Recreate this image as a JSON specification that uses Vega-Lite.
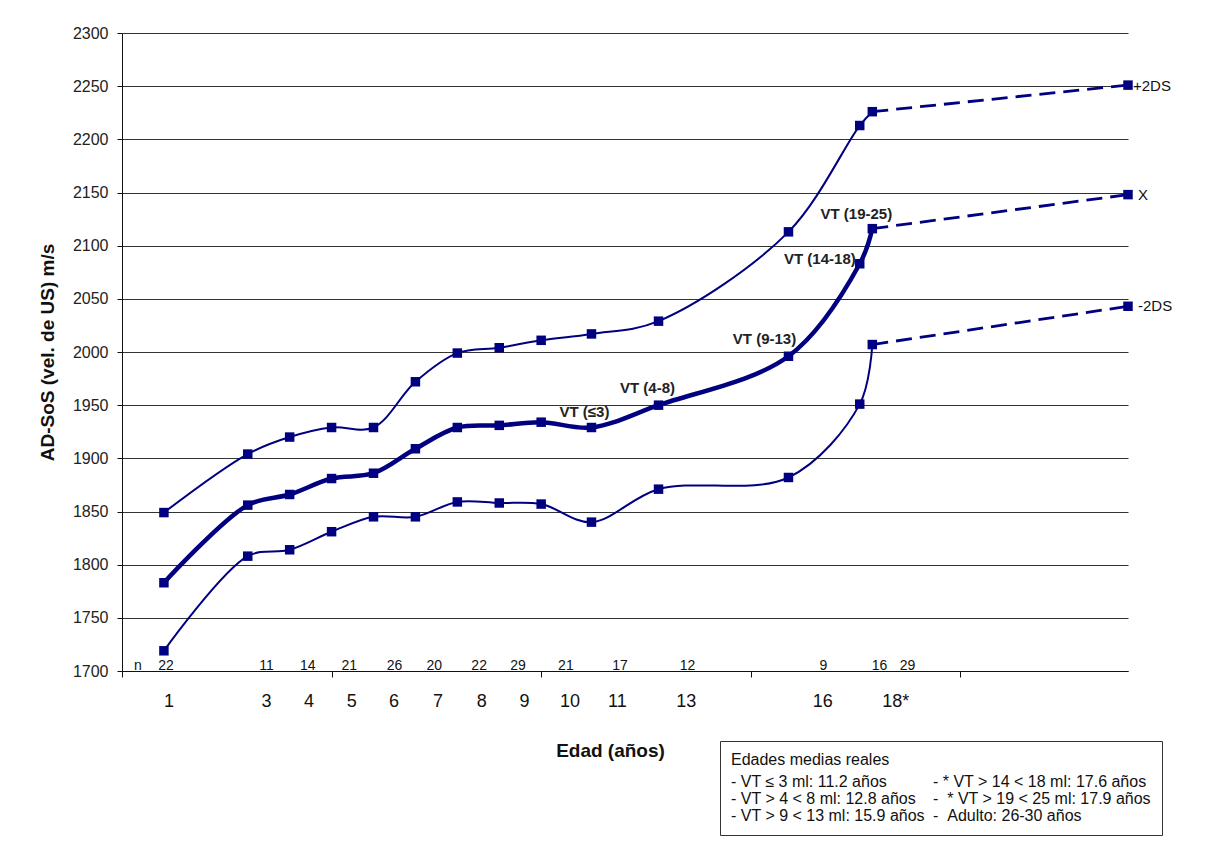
{
  "$schema": "https://vega.github.io/schema/vega-lite/v6.json",
  "width": 1006,
  "height": 638,
  "autosize": "none",
  "padding": {"left": 122, "top": 33, "right": 83, "bottom": 177},
  "background": "white",
  "config": {
    "view": {"stroke": null},
    "font": "Liberation Sans",
    "text": {"font": "Liberation Sans", "color": "#111"}
  },
  "datasets": {
    "series": [
      {"edad": 1, "serie": "+2DS", "sos": 1849},
      {"edad": 3, "serie": "+2DS", "sos": 1904},
      {"edad": 4, "serie": "+2DS", "sos": 1920},
      {"edad": 5, "serie": "+2DS", "sos": 1929},
      {"edad": 6, "serie": "+2DS", "sos": 1929},
      {"edad": 7, "serie": "+2DS", "sos": 1972},
      {"edad": 8, "serie": "+2DS", "sos": 1999},
      {"edad": 9, "serie": "+2DS", "sos": 2004},
      {"edad": 10, "serie": "+2DS", "sos": 2011},
      {"edad": 11.2, "serie": "+2DS", "sos": 2017},
      {"edad": 12.8, "serie": "+2DS", "sos": 2029},
      {"edad": 15.9, "serie": "+2DS", "sos": 2113},
      {"edad": 17.6, "serie": "+2DS", "sos": 2213},
      {"edad": 17.9, "serie": "+2DS", "sos": 2226},
      {"edad": 24, "serie": "+2DS", "sos": 2251},
      {"edad": 1, "serie": "X", "sos": 1783},
      {"edad": 3, "serie": "X", "sos": 1856},
      {"edad": 4, "serie": "X", "sos": 1866},
      {"edad": 5, "serie": "X", "sos": 1881},
      {"edad": 6, "serie": "X", "sos": 1886},
      {"edad": 7, "serie": "X", "sos": 1909},
      {"edad": 8, "serie": "X", "sos": 1929},
      {"edad": 9, "serie": "X", "sos": 1931},
      {"edad": 10, "serie": "X", "sos": 1934},
      {"edad": 11.2, "serie": "X", "sos": 1929, "grupo": "VT (≤3)"},
      {"edad": 12.8, "serie": "X", "sos": 1950, "grupo": "VT (4-8)"},
      {"edad": 15.9, "serie": "X", "sos": 1996, "grupo": "VT (9-13)"},
      {"edad": 17.6, "serie": "X", "sos": 2083, "grupo": "VT (14-18)"},
      {"edad": 17.9, "serie": "X", "sos": 2116, "grupo": "VT (19-25)"},
      {"edad": 24, "serie": "X", "sos": 2148},
      {"edad": 1, "serie": "-2DS", "sos": 1719},
      {"edad": 3, "serie": "-2DS", "sos": 1808},
      {"edad": 4, "serie": "-2DS", "sos": 1814},
      {"edad": 5, "serie": "-2DS", "sos": 1831},
      {"edad": 6, "serie": "-2DS", "sos": 1845},
      {"edad": 7, "serie": "-2DS", "sos": 1845},
      {"edad": 8, "serie": "-2DS", "sos": 1859},
      {"edad": 9, "serie": "-2DS", "sos": 1858},
      {"edad": 10, "serie": "-2DS", "sos": 1857},
      {"edad": 11.2, "serie": "-2DS", "sos": 1840},
      {"edad": 12.8, "serie": "-2DS", "sos": 1871},
      {"edad": 15.9, "serie": "-2DS", "sos": 1882},
      {"edad": 17.6, "serie": "-2DS", "sos": 1951},
      {"edad": 17.9, "serie": "-2DS", "sos": 2007},
      {"edad": 24, "serie": "-2DS", "sos": 2043}
    ],
    "edades": [
      {"pos": 1.12, "etiqueta": "1"},
      {"pos": 3.45, "etiqueta": "3"},
      {"pos": 4.46, "etiqueta": "4"},
      {"pos": 5.48, "etiqueta": "5"},
      {"pos": 6.49, "etiqueta": "6"},
      {"pos": 7.54, "etiqueta": "7"},
      {"pos": 8.58, "etiqueta": "8"},
      {"pos": 9.6, "etiqueta": "9"},
      {"pos": 10.69, "etiqueta": "10"},
      {"pos": 11.82, "etiqueta": "11"},
      {"pos": 13.46, "etiqueta": "13"},
      {"pos": 16.72, "etiqueta": "16"},
      {"pos": 18.46, "etiqueta": "18*"}
    ],
    "muestras": [
      {"pos": 0.38, "n": "n"},
      {"pos": 1.05, "n": "22"},
      {"pos": 3.45, "n": "11"},
      {"pos": 4.43, "n": "14"},
      {"pos": 5.42, "n": "21"},
      {"pos": 6.5, "n": "26"},
      {"pos": 7.45, "n": "20"},
      {"pos": 8.52, "n": "22"},
      {"pos": 9.45, "n": "29"},
      {"pos": 10.59, "n": "21"},
      {"pos": 11.88, "n": "17"},
      {"pos": 13.49, "n": "12"},
      {"pos": 16.73, "n": "9"},
      {"pos": 18.07, "n": "16"},
      {"pos": 18.74, "n": "29"}
    ],
    "notas": [
      {"nota": "- VT ≤ 3 ml: 11.2 años"},
      {"nota": "- VT > 4 < 8 ml: 12.8 años"},
      {"nota": "- VT > 9 < 13 ml: 15.9 años"},
      {"nota": "- * VT > 14 < 18 ml: 17.6 años"},
      {"nota": "- \u00a0* VT > 19 < 25 ml: 17.9 años"},
      {"nota": "- \u00a0Adulto: 26-30 años"}
    ]
  },
  "layer": [
    {
      "data": {"name": "series"},
      "transform": [{"filter": "datum.edad <= 17.9 && datum.serie != 'X'"}],
      "mark": {"type": "line", "interpolate": "catmull-rom", "color": "#000080", "strokeWidth": 2},
      "encoding": {
        "x": {
          "field": "edad", "type": "quantitative",
          "scale": {"domain": [0, 24], "nice": false, "zero": false},
          "axis": {
            "values": [0, 5, 10, 15, 20],
            "labels": false,
            "grid": false,
            "tickSize": 6,
            "tickColor": "#111",
            "domainColor": "#111",
            "title": "Edad (años)",
            "titleFont": "Liberation Sans",
            "titleFontSize": 19,
            "titleFontWeight": "bold",
            "titleColor": "#111",
            "titleBaseline": "alphabetic",
            "titleX": 488,
            "titleY": 85
          }
        },
        "y": {
          "field": "sos", "type": "quantitative",
          "scale": {"domain": [1700, 2300], "nice": false, "zero": false},
          "axis": {
            "values": [1700, 1750, 1800, 1850, 1900, 1950, 2000, 2050, 2100, 2150, 2200, 2250, 2300],
            "format": "d",
            "grid": true,
            "gridColor": "#333",
            "gridWidth": 1,
            "tickSize": 5,
            "tickColor": "#111",
            "domainColor": "#111",
            "labelFont": "Liberation Sans",
            "labelFontSize": 16,
            "labelColor": "#222",
            "labelPadding": 9,
            "title": "AD-SoS (vel. de US) m/s",
            "titleFont": "Liberation Sans",
            "titleFontSize": 19,
            "titleFontWeight": "bold",
            "titleColor": "#111",
            "titleBaseline": "alphabetic",
            "titleX": -69
          }
        },
        "detail": {"field": "serie", "type": "nominal"}
      }
    },
    {
      "data": {"name": "series"},
      "transform": [{"filter": "datum.edad <= 17.9 && datum.serie == 'X'"}],
      "mark": {"type": "line", "interpolate": "catmull-rom", "color": "#000080", "strokeWidth": 4.5},
      "encoding": {
        "x": {"field": "edad", "type": "quantitative"},
        "y": {"field": "sos", "type": "quantitative"}
      }
    },
    {
      "data": {"name": "series"},
      "transform": [{"filter": "datum.edad >= 17.9"}],
      "mark": {"type": "line", "color": "#000080", "strokeWidth": 2.8, "strokeDash": [16, 8]},
      "encoding": {
        "x": {"field": "edad", "type": "quantitative"},
        "y": {"field": "sos", "type": "quantitative"},
        "detail": {"field": "serie", "type": "nominal"}
      }
    },
    {
      "data": {"name": "series"},
      "mark": {"type": "point", "shape": "square", "filled": true, "size": 90, "color": "#000080", "opacity": 1},
      "encoding": {
        "x": {"field": "edad", "type": "quantitative"},
        "y": {"field": "sos", "type": "quantitative"}
      }
    },
    {
      "data": {"name": "series"},
      "transform": [{"filter": "datum.edad == 24 && datum.serie == '+2DS'"}],
      "mark": {"type": "text", "align": "left", "baseline": "middle", "dx": 5, "dy": 1, "fontSize": 15, "color": "#111"},
      "encoding": {
        "x": {"field": "edad", "type": "quantitative"},
        "y": {"field": "sos", "type": "quantitative"},
        "text": {"field": "serie"}
      }
    },
    {
      "data": {"name": "series"},
      "transform": [{"filter": "datum.edad == 24 && datum.serie != '+2DS'"}],
      "mark": {"type": "text", "align": "left", "baseline": "middle", "dx": 10, "dy": 0, "fontSize": 15, "color": "#111"},
      "encoding": {
        "x": {"field": "edad", "type": "quantitative"},
        "y": {"field": "sos", "type": "quantitative"},
        "text": {"field": "serie"}
      }
    },
    {
      "data": {"name": "series"},
      "transform": [{"filter": "datum.grupo == 'VT (≤3)'"}],
      "mark": {"type": "text", "align": "center", "baseline": "middle", "dx": -7, "dy": -15, "fontSize": 15, "fontWeight": "bold", "color": "#222"},
      "encoding": {
        "x": {"field": "edad", "type": "quantitative"},
        "y": {"field": "sos", "type": "quantitative"},
        "text": {"field": "grupo"}
      }
    },
    {
      "data": {"name": "series"},
      "transform": [{"filter": "datum.grupo == 'VT (4-8)'"}],
      "mark": {"type": "text", "align": "center", "baseline": "middle", "dx": -11, "dy": -17, "fontSize": 15, "fontWeight": "bold", "color": "#222"},
      "encoding": {
        "x": {"field": "edad", "type": "quantitative"},
        "y": {"field": "sos", "type": "quantitative"},
        "text": {"field": "grupo"}
      }
    },
    {
      "data": {"name": "series"},
      "transform": [{"filter": "datum.grupo == 'VT (9-13)'"}],
      "mark": {"type": "text", "align": "center", "baseline": "middle", "dx": -24, "dy": -17, "fontSize": 15, "fontWeight": "bold", "color": "#222"},
      "encoding": {
        "x": {"field": "edad", "type": "quantitative"},
        "y": {"field": "sos", "type": "quantitative"},
        "text": {"field": "grupo"}
      }
    },
    {
      "data": {"name": "series"},
      "transform": [{"filter": "datum.grupo == 'VT (14-18)'"}],
      "mark": {"type": "text", "align": "right", "baseline": "middle", "dx": -4, "dy": -5, "fontSize": 15, "fontWeight": "bold", "color": "#222"},
      "encoding": {
        "x": {"field": "edad", "type": "quantitative"},
        "y": {"field": "sos", "type": "quantitative"},
        "text": {"field": "grupo"}
      }
    },
    {
      "data": {"name": "series"},
      "transform": [{"filter": "datum.grupo == 'VT (19-25)'"}],
      "mark": {"type": "text", "align": "center", "baseline": "middle", "dx": -16, "dy": -15, "fontSize": 15, "fontWeight": "bold", "color": "#222"},
      "encoding": {
        "x": {"field": "edad", "type": "quantitative"},
        "y": {"field": "sos", "type": "quantitative"},
        "text": {"field": "grupo"}
      }
    },
    {
      "data": {"name": "edades"},
      "mark": {"type": "text", "align": "center", "baseline": "alphabetic", "dy": 36, "fontSize": 18, "color": "#111"},
      "encoding": {
        "x": {"field": "pos", "type": "quantitative"},
        "y": {"datum": 1700, "type": "quantitative"},
        "text": {"field": "etiqueta"}
      }
    },
    {
      "data": {"name": "muestras"},
      "mark": {"type": "text", "align": "center", "baseline": "alphabetic", "dy": -1.5, "fontSize": 14, "color": "#111"},
      "encoding": {
        "x": {"field": "pos", "type": "quantitative"},
        "y": {"datum": 1700, "type": "quantitative"},
        "text": {"field": "n"}
      }
    },
    {
      "data": {"name": "notas"},
      "mark": {"type": "point", "opacity": 0, "size": 0},
      "encoding": {
        "shape": {
          "field": "nota", "type": "nominal",
          "scale": {
            "domain": ["- VT ≤ 3 ml: 11.2 años", "- VT > 4 < 8 ml: 12.8 años", "- VT > 9 < 13 ml: 15.9 años", "- * VT > 14 < 18 ml: 17.6 años", "- \u00a0* VT > 19 < 25 ml: 17.9 años", "- \u00a0Adulto: 26-30 años"],
            "range": ["square", "square", "square", "square", "square", "square"]
          },
          "legend": {
            "orient": "none",
            "legendX": 598,
            "legendY": 708,
            "title": "Edades medias reales",
            "titleFont": "Liberation Sans",
            "titleFontSize": 16,
            "titleFontWeight": "normal",
            "titleColor": "#111",
            "titlePadding": 6,
            "columns": 2,
            "columnPadding": 8,
            "rowPadding": 1,
            "symbolSize": 0,
            "symbolStrokeWidth": 0,
            "symbolOpacity": 0,
            "labelOffset": -16,
            "labelFont": "Liberation Sans",
            "labelFontSize": 16,
            "labelLimit": 400,
            "labelColor": "#111",
            "strokeColor": "#333",
            "fillColor": "white",
            "padding": 11,
            "cornerRadius": 0
          }
        }
      }
    }
  ]
}
